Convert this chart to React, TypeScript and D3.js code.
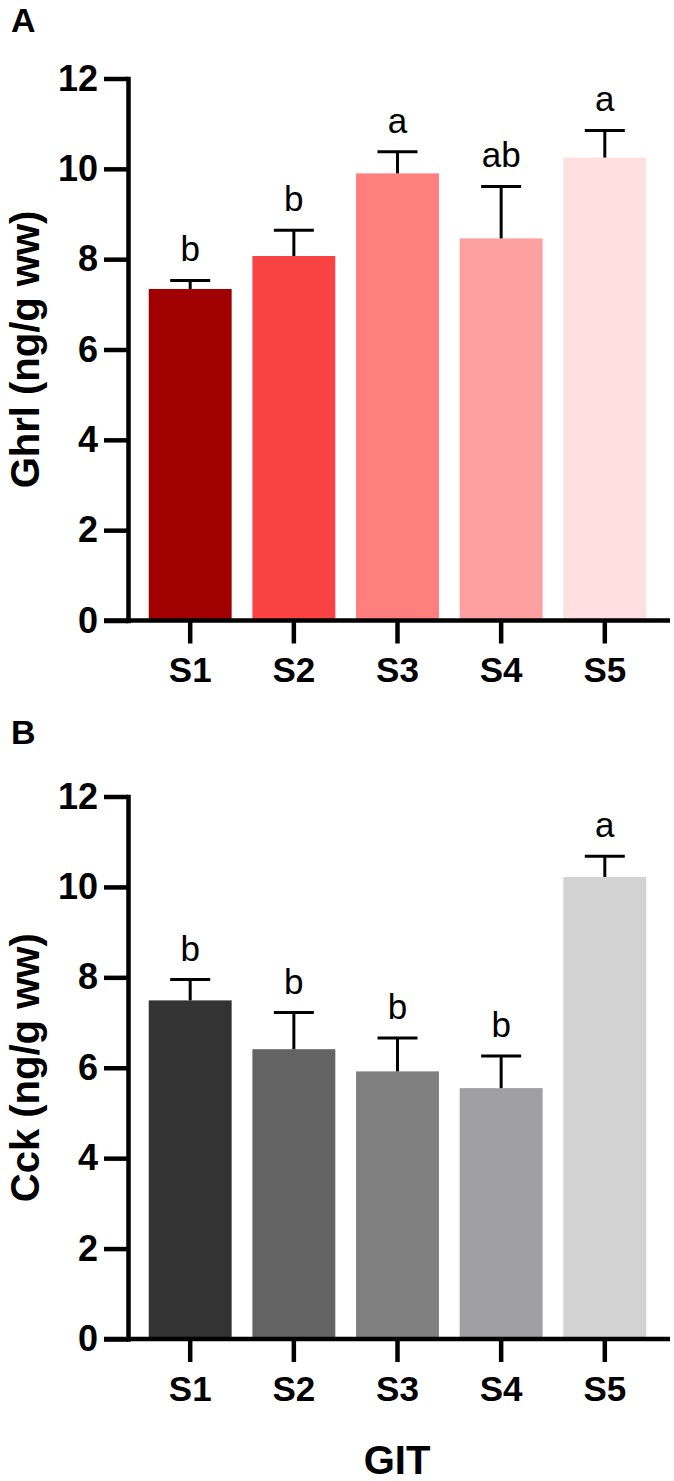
import React, { useEffect, useRef } from 'react';
import * as d3 from 'd3';

// sampling sites along the gut
const groups = ['S1', 'S2', 'S3', 'S4', 'S5'];
const yTicks = [0, 2, 4, 6, 8, 10, 12];

// ghrelin, mean and SEM
const ghrlMean = [7.34, 8.07, 9.9, 8.46, 10.25];
const ghrlErr = [0.19, 0.57, 0.48, 1.15, 0.6];
const ghrlLetters = ['b', 'b', 'a', 'ab', 'a'];
const ghrlColors = ['#a00000', '#f94343', '#ff7f7f', '#ffa0a0', '#ffdfe0'];

// cholecystokinin, mean and SEM
const cckMean = [7.49, 6.41, 5.92, 5.55, 10.22];
const cckErr = [0.46, 0.81, 0.74, 0.71, 0.46];
const cckLetters = ['b', 'b', 'b', 'b', 'a'];
const cckColors = ['#333333', '#636363', '#808080', '#a0a0a4', '#d3d3d3'];

const W = 674;
const H = 1481;
const FONT = "'Liberation Sans', Arial, sans-serif";

const drawPanel = (svg, opts) => {
  const { top, bottom, mean, err, letters, colors, title, tag, tagY } = opts;
  const axisX = 128;
  const lw = 4.5;

  const x = d3.scaleBand()
    .domain(groups)
    .range([axisX, 667])
    .paddingInner(0.2)
    .paddingOuter(0.2);

  const y = d3.scaleLinear()
    .domain([0, 12])
    .range([bottom, top]);

  const g = svg.append('g');

  // bars
  g.selectAll('rect.bar')
    .data(groups)
    .join('rect')
    .attr('class', 'bar')
    .attr('x', d => x(d))
    .attr('y', (d, i) => y(mean[i]))
    .attr('width', x.bandwidth())
    .attr('height', (d, i) => y(0) - y(mean[i]))
    .attr('fill', (d, i) => colors[i]);

  // error bars (upper only)
  const eb = g.selectAll('g.err')
    .data(groups)
    .join('g')
    .attr('class', 'err')
    .attr('stroke', '#000')
    .attr('stroke-width', 3);
  eb.append('line')
    .attr('x1', d => x(d) + x.bandwidth() / 2)
    .attr('x2', d => x(d) + x.bandwidth() / 2)
    .attr('y1', (d, i) => y(mean[i]))
    .attr('y2', (d, i) => y(mean[i] + err[i]));
  eb.append('line')
    .attr('x1', d => x(d) + x.bandwidth() / 2 - 20)
    .attr('x2', d => x(d) + x.bandwidth() / 2 + 20)
    .attr('y1', (d, i) => y(mean[i] + err[i]))
    .attr('y2', (d, i) => y(mean[i] + err[i]));

  // significance letters
  g.selectAll('text.sig')
    .data(groups)
    .join('text')
    .attr('class', 'sig')
    .attr('x', d => x(d) + x.bandwidth() / 2)
    .attr('y', (d, i) => y(mean[i] + err[i]) - 19)
    .attr('text-anchor', 'middle')
    .style('font-family', FONT)
    .style('font-size', '35px')
    .text((d, i) => letters[i]);

  // y axis
  const yAxis = g.append('g')
    .attr('transform', `translate(${axisX},0)`)
    .call(d3.axisLeft(y).tickValues(yTicks).tickSize(24).tickSizeOuter(0).tickPadding(6));
  yAxis.select('.domain').attr('stroke-width', lw).attr('stroke-linecap', 'square');
  yAxis.selectAll('.tick line').attr('stroke-width', lw);
  yAxis.selectAll('.tick text')
    .style('font-family', FONT)
    .style('font-size', '36px')
    .style('font-weight', 'bold')
    .attr('fill', '#000');

  // x axis
  const xAxis = g.append('g')
    .attr('transform', `translate(0,${bottom})`)
    .call(d3.axisBottom(x).tickSize(23).tickSizeOuter(0).tickPadding(14));
  xAxis.select('.domain').remove();
  xAxis.selectAll('.tick line').attr('stroke-width', lw);
  xAxis.selectAll('.tick text')
    .style('font-family', FONT)
    .style('font-size', '35px')
    .style('font-weight', 'bold')
    .attr('fill', '#000');
  g.append('line')
    .attr('x1', axisX - 24)
    .attr('x2', 670)
    .attr('y1', bottom)
    .attr('y2', bottom)
    .attr('stroke', '#000')
    .attr('stroke-width', lw);

  // axis title
  g.append('text')
    .attr('transform', `translate(39,${(top + bottom) / 2}) rotate(-90)`)
    .attr('text-anchor', 'middle')
    .style('font-family', FONT)
    .style('font-size', '40px')
    .style('font-weight', 'bold')
    .text(title);

  // panel tag
  g.append('text')
    .attr('x', 11)
    .attr('y', tagY)
    .style('font-family', FONT)
    .style('font-size', '34px')
    .style('font-weight', 'bold')
    .text(tag);
};

const App = () => {
  const svgRef = useRef(null);

  useEffect(() => {
    const svg = d3.select(svgRef.current);
    svg.selectAll('*').remove();

    drawPanel(svg, {
      top: 78.5, bottom: 620.5,
      mean: ghrlMean, err: ghrlErr, letters: ghrlLetters, colors: ghrlColors,
      title: 'Ghrl (ng/g ww)', tag: 'A', tagY: 32,
    });
    drawPanel(svg, {
      top: 796.5, bottom: 1339,
      mean: cckMean, err: cckErr, letters: cckLetters, colors: cckColors,
      title: 'Cck (ng/g ww)', tag: 'B', tagY: 744,
    });

    svg.append('text')
      .attr('x', 397)
      .attr('y', 1474)
      .attr('text-anchor', 'middle')
      .style('font-family', FONT)
      .style('font-size', '40px')
      .style('font-weight', 'bold')
      .text('GIT');
  }, []);

  return (
    <svg
      ref={svgRef}
      width={W}
      height={H}
      style={{ position: 'absolute', left: 0, top: 0, background: '#fff' }}
    />
  );
};

export default App;
